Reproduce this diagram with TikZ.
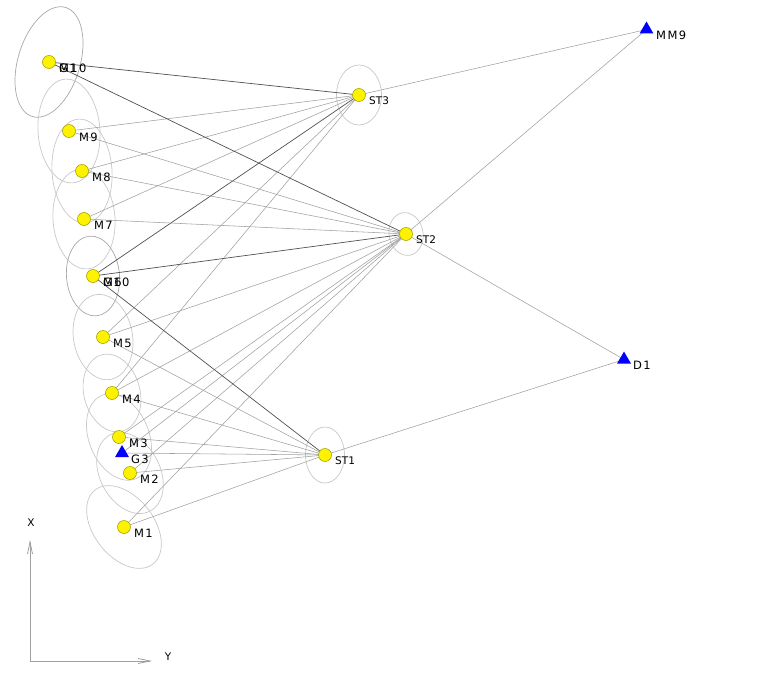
\documentclass[tikz,border=0pt]{standalone}
\usepackage{fontspec}
\setmainfont{DejaVu Sans}
\newfontfamily\lblfont[LetterSpace=12]{DejaVu Sans}
\usetikzlibrary{arrows.meta,shapes.geometric,backgrounds}
\definecolor{ptborder}{HTML}{A8A800}
\definecolor{lightline}{HTML}{A0A0A0}
\definecolor{darkline}{HTML}{505050}
\definecolor{ellcol}{HTML}{C8C8C8}
\definecolor{ellcold}{HTML}{A8A8A8}
\definecolor{axiscol}{HTML}{A0A0A0}
\begin{document}
\begin{tikzpicture}[x=1pt,y=-1pt,
  pt/.style={circle,draw=ptborder,fill=yellow,inner sep=0pt,minimum size=13pt,line width=0.6pt},
  tri/.style={regular polygon,regular polygon sides=3,fill=blue,inner sep=0pt,minimum size=16pt},
  lbl/.style={anchor=west,inner sep=0pt,font=\lblfont\fontsize{11.5}{13}\selectfont},
  stlbl/.style={anchor=west,inner sep=0pt,font=\fontsize{10.5}{12}\selectfont},
  obs/.style={draw=lightline,line width=0.55pt},
  obsd/.style={draw=darkline,line width=0.7pt},
  ell/.style={draw=ellcol,line width=0.7pt},
  elld/.style={draw=ellcold,line width=0.7pt},
  axis/.style={draw=axiscol,line width=0.8pt,-{Straight Barb[length=12pt,width=5pt]}}]
\useasboundingbox (0,0) rectangle (768,693);

% points
\node[pt] (M10) at (49,62) {};
\node[pt] (M9) at (69,131) {};
\node[pt] (M8) at (82,171) {};
\node[pt] (M7) at (84,219) {};
\node[pt] (M6) at (93,276) {};
\node[pt] (M5) at (103,337) {};
\node[pt] (M4) at (112,393) {};
\node[pt] (M3) at (119,437) {};
\node[pt] (M2) at (130,473) {};
\node[pt] (M1) at (124,527) {};
\node[tri] (G3) at (122,453) {};
\node[pt] (ST3) at (359,95) {};
\node[pt] (ST2) at (406,234) {};
\node[pt] (ST1) at (325,455) {};
\node[tri] (MM9) at (646.5,29.5) {};
\node[tri] (D1) at (624,359.5) {};

% labels
\node[lbl] (M10l) at (59,68) {M10};
\node[lbl] (G1l) at (59,68) {G1};
\node[lbl] (M9l) at (79,137) {M9};
\node[lbl] (M8l) at (92,177) {M8};
\node[lbl] (M7l) at (94,225) {M7};
\node[lbl] (M6l) at (103,282) {M6};
\node[lbl] (G10l) at (103,282) {G10};
\node[lbl] (M5l) at (113,343) {M5};
\node[lbl] (M4l) at (122,399) {M4};
\node[lbl] (M3l) at (129,443) {M3};
\node[lbl] (G3l) at (131,459) {G3};
\node[lbl] (M2l) at (140,479) {M2};
\node[lbl] (M1l) at (134,533) {M1};
\node[stlbl] (ST3l) at (369,101) {ST3};
\node[stlbl] (ST2l) at (416,240) {ST2};
\node[stlbl] (ST1l) at (335,461) {ST1};
\node[lbl] (MM9l) at (656,35) {MM9};
\node[lbl] (D1l) at (633,365) {D1};

% axes
\coordinate (O) at (30,661);
\coordinate (XT) at (30,540);
\coordinate (YT) at (152,661);
\draw[axis] (O) -- (XT);
\draw[axis] (O) -- (YT);
\node[stlbl,anchor=center] (Xl) at (31,523) {X};
\node[stlbl,anchor=center] (Yl) at (168,657) {Y};

\begin{scope}[on background layer]
% error ellipses
\draw[elld,rotate around={-17:(M10.center)}] (M10.center) ellipse [x radius=31pt, y radius=57pt];
\draw[ell,rotate around={4:(M9.center)}] (M9.center) ellipse [x radius=31pt, y radius=52pt];
\draw[ell,rotate around={4:(M8.center)}] (M8.center) ellipse [x radius=30pt, y radius=52pt];
\draw[ell,rotate around={4:(M7.center)}] (M7.center) ellipse [x radius=31pt, y radius=50pt];
\draw[elld,rotate around={5:(M6.center)}] (M6.center) ellipse [x radius=26.5pt, y radius=40pt];
\draw[ell,rotate around={10:(M5.center)}] (M5.center) ellipse [x radius=29.5pt, y radius=43pt];
\draw[ell,rotate around={15:(M4.center)}] (M4.center) ellipse [x radius=28pt, y radius=39.5pt];
\draw[ell,rotate around={22:(M3.center)}] (M3.center) ellipse [x radius=30pt, y radius=45pt];
\draw[ell,rotate around={28:(M2.center)}] (M2.center) ellipse [x radius=30pt, y radius=43pt];
\draw[ell,rotate around={38:(M1.center)}] (M1.center) ellipse [x radius=30pt, y radius=47pt];
\draw[ell] (ST3.center) ellipse [x radius=22.5pt, y radius=30pt];
\draw[ell,rotate around={10:(ST2.center)}] (ST2.center) ellipse [x radius=17pt, y radius=21.5pt];
\draw[ell] (ST1.center) ellipse [x radius=19.5pt, y radius=28pt];

% observations from ST3
\draw[obsd] (ST3.center) -- (M10.center);
\draw[obs] (ST3.center) -- (M9.center);
\draw[obs] (ST3.center) -- (M8.center);
\draw[obs] (ST3.center) -- (M7.center);
\draw[obsd] (ST3.center) -- (M6.center);
\draw[obs] (ST3.center) -- (M5.center);
\draw[obs] (ST3.center) -- (M4.center);
\draw[obs] (ST3.center) -- (MM9.center);
% observations from ST2
\draw[obsd] (ST2.center) -- (M10.center);
\draw[obs] (ST2.center) -- (M9.center);
\draw[obs] (ST2.center) -- (M8.center);
\draw[obs] (ST2.center) -- (M7.center);
\draw[obsd] (ST2.center) -- (M6.center);
\draw[obs] (ST2.center) -- (M5.center);
\draw[obs] (ST2.center) -- (M4.center);
\draw[obs] (ST2.center) -- (M3.center);
\draw[obs] (ST2.center) -- (G3.center);
\draw[obs] (ST2.center) -- (M2.center);
\draw[obs] (ST2.center) -- (M1.center);
\draw[obs] (ST2.center) -- (MM9.center);
\draw[obs] (ST2.center) -- (D1.center);
% observations from ST1
\draw[obsd] (ST1.center) -- (M6.center);
\draw[obs] (ST1.center) -- (M5.center);
\draw[obs] (ST1.center) -- (M4.center);
\draw[obs] (ST1.center) -- (M3.center);
\draw[obs] (ST1.center) -- (G3.center);
\draw[obs] (ST1.center) -- (M2.center);
\draw[obs] (ST1.center) -- (M1.center);
\draw[obs] (ST1.center) -- (D1.center);
\end{scope}
\end{tikzpicture}
\end{document}
